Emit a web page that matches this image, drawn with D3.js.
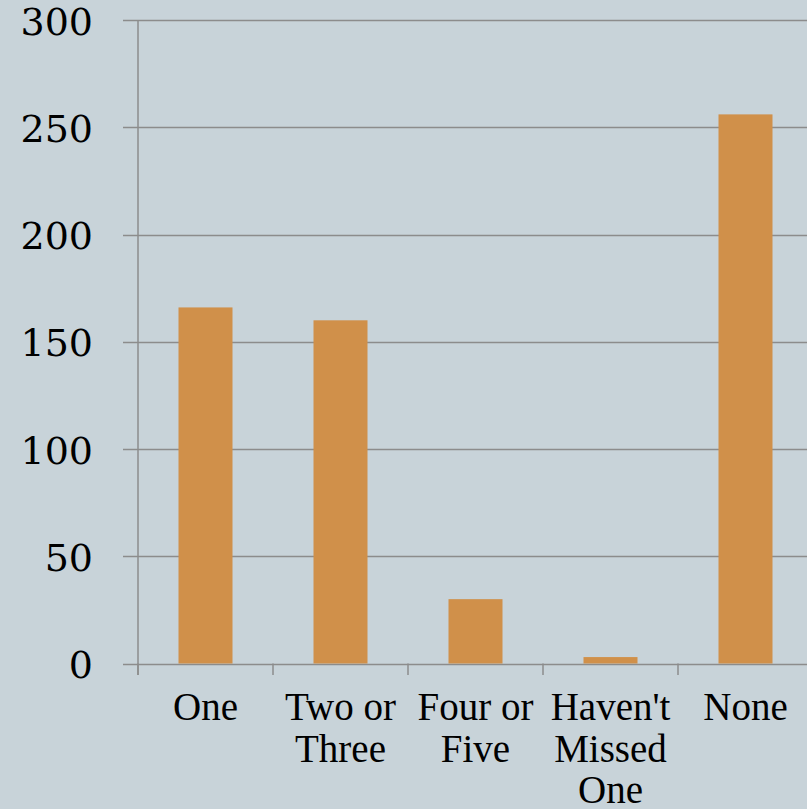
<!DOCTYPE html>
<html><head><meta charset="utf-8">
<script src="https://cdn.jsdelivr.net/npm/d3@7"></script>
<style>
html,body{margin:0;padding:0;background:#c8d3d9;}
svg{display:block;}
.ylab{font-family:"DejaVu Serif", "Liberation Serif", serif;}
.xlab{font-family:"Liberation Serif", "Times New Roman", "DejaVu Serif", serif;}
</style></head>
<body><svg id="c" width="807" height="809"></svg>
<script>
const categories = ["One", "Two or Three", "Four or Five", "Haven't Missed One", "None"];
const values = [166, 160, 30, 3, 256];
const yTicks = [0, 50, 100, 150, 200, 250, 300];

(function() {
const svg = d3.select("#c");
const mLeft = 138, mTop = 20, mBottom = 663.5, bandW = 135;
const x = d3.scaleBand().domain(categories).range([mLeft, mLeft + bandW * categories.length]).paddingInner(0.6).paddingOuter(0.3);
const y = d3.scaleLinear().domain([0, 300]).range([mBottom, mTop]);

svg.append("rect").attr("width", 807).attr("height", 809).attr("fill", "#c8d3d9");

// gridlines
svg.append("g").selectAll("line").data(yTicks).join("line")
  .attr("x1", 123).attr("x2", 807)
  .attr("y1", d => Math.round(y(d)) + 0.5).attr("y2", d => Math.round(y(d)) + 0.5)
  .attr("stroke", "#8c8c8c").attr("stroke-width", 1.5);

// y axis line
svg.append("line").attr("x1", mLeft).attr("x2", mLeft).attr("y1", mTop).attr("y2", 675)
  .attr("stroke", "#8c8c8c").attr("stroke-width", 1.5);

// x ticks
const tickXs = categories.map((c, i) => mLeft + i * bandW);
svg.append("g").selectAll("line").data(tickXs).join("line")
  .attr("x1", d => d).attr("x2", d => d).attr("y1", mBottom).attr("y2", 675)
  .attr("stroke", "#8c8c8c").attr("stroke-width", 1.5);

// bars
svg.append("g").selectAll("rect").data(values).join("rect")
  .attr("x", (d, i) => x(categories[i]))
  .attr("width", x.bandwidth())
  .attr("y", d => y(d))
  .attr("height", d => y(0) - y(d))
  .attr("fill", "#d0904a");

// y labels
svg.append("g").selectAll("text").data(yTicks).join("text")
  .attr("class", "ylab")
  .attr("x", 93).attr("y", d => y(d) + 5)
  .attr("text-anchor", "end").attr("dominant-baseline", "middle")
  .attr("font-size", 38)
  .attr("fill", "#000").text(d => d);

// x labels with wrapping
const xl = svg.append("g").selectAll("text").data(categories).join("text")
  .attr("class", "xlab")
  .attr("text-anchor", "middle")
  .attr("font-size", 39)
  .attr("fill", "#000");
xl.each(function(d) {
  const t = d3.select(this);
  const cx = x(d) + x.bandwidth() / 2;
  const words = d.split(" ");
  let lines = [], cur = [];
  words.forEach(w => {
    const test = cur.concat([w]).join(" ");
    t.text(test);
    if (cur.length && this.getComputedTextLength() > bandW - 4) {
      lines.push(cur.join(" ")); cur = [w];
    } else cur.push(w);
  });
  lines.push(cur.join(" "));
  t.text(null);
  lines.forEach((ln, i) => {
    t.append("tspan").attr("x", cx).attr("y", 720 + i * 41.5).text(ln);
  });
});
})();
</script></body></html>
